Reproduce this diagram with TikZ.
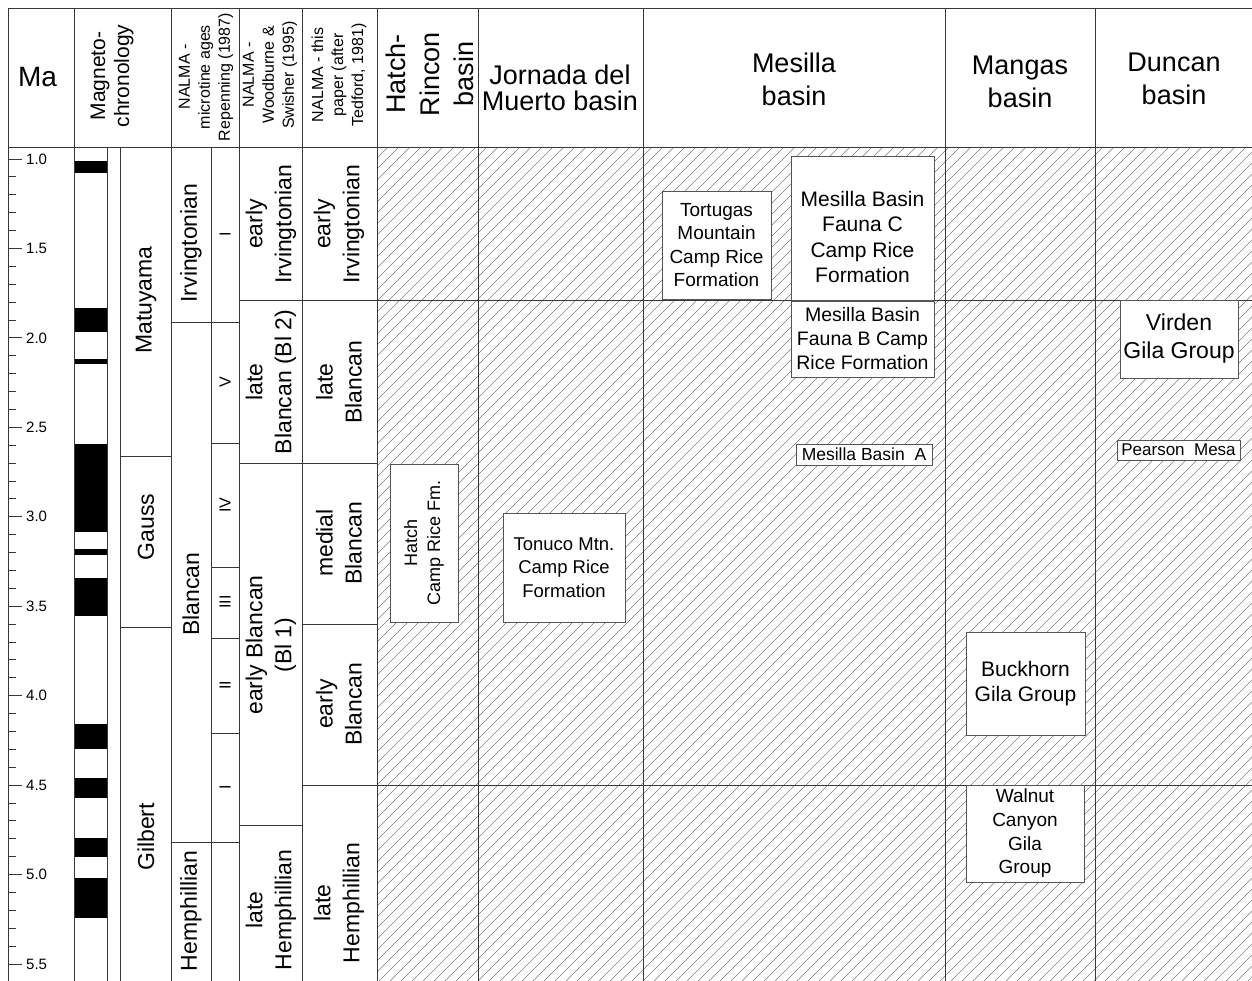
\documentclass[tikz,border=0pt]{standalone}
\usepackage{fontspec}
\setmainfont{Liberation Sans}
\definecolor{linec}{HTML}{383838}
\definecolor{boxc}{HTML}{555555}
\definecolor{hatchc}{HTML}{7E7E7E}
\begin{document}
\begin{tikzpicture}[x=1pt,y=-1pt,
  tabline/.style={draw=linec, line width=0.9pt},
  hatchline/.style={draw=hatchc, line width=0.6pt},
  basinhdr/.style={font=\fontsize{27}{33}\selectfont, align=center, inner sep=0pt},
  rothdr/.style={font=\fontsize{16}{20}\selectfont, align=center, rotate=90, inner sep=0pt},
  stage/.style={font=\fontsize{23}{29}\selectfont, align=center, rotate=90, inner sep=0pt},
  roman/.style={font=\fontsize{16}{19}\selectfont, rotate=90, inner sep=0pt},
  ticklbl/.style={font=\fontsize{15}{18}\selectfont, anchor=west, inner sep=0pt},
  unitbox/.style={draw=boxc, fill=white, line width=0.9pt, align=center, inner sep=0pt}]
\useasboundingbox (0,0) rectangle (1252,981);
\fill[white] (0,0) rectangle (1252,981);
% basins hatched
\begin{scope}
\clip (377,147) rectangle (1252,981);
\foreach \i in {0,...,156} \draw[hatchline] ({-457+11*\i},981) -- ++(834,-834);
\end{scope}
% polarity
\foreach \a/\b in {161/173,308/332,359/364,444/532,549/555,578/616,724/749,778/798,838/857,878/918}
  \fill[black] (74,\a) rectangle (107,\b);
% table frame
\draw[tabline] (8,8) -- (1252,8);
\draw[tabline] (8,147) -- (1252,147);
\draw[tabline] (8.5,8) -- (8.5,981);
\foreach \x in {74,171,239,302,377,478,643,945,1095} \draw[tabline] (\x,8) -- (\x,981);
\foreach \x in {107,120,211} \draw[tabline] (\x,147) -- (\x,981);
\foreach \xa/\xb/\yy in {120/171/456,120/171/627,171/239/322,171/239/842,211/239/443,211/239/567,211/239/638,211/239/733,239/1252/300,239/377/463,302/377/624,302/1252/785,239/302/825}
  \draw[tabline] (\xa,\yy) -- (\xb,\yy);
% Ma scale
\foreach \i in {0,...,45} \draw[tabline] (8.5,{159+17.89*\i}) -- (16,{159+17.89*\i});
\foreach \t [count=\k] in {1.0,1.5,2.0,2.5,3.0,3.5,4.0,4.5,5.0,5.5}{
  \draw[tabline] (8.5,{159+178.9*(\t-1)}) -- (22,{159+178.9*(\t-1)});
  \node[ticklbl] (tick\k) at (26,{159+178.9*(\t-1)}) {\t};
}
% headers
\node[basinhdr, font=\fontsize{28}{33}\selectfont] (hdrMa) at (37.5,77) {Ma};
\node[basinhdr, rotate=90, font=\fontsize{21}{24}\selectfont] (hdrMag) at (112,76) {Magneto-\\chronology};
\node[rothdr] (hdrRep) at (206,77) {NALMA -\\microtine ages\\Repenning (1987)};
\node[rothdr] (hdrWS) at (270,75) {NALMA -\\Woodburne \&\\Swisher (1995)};
\node[rothdr] (hdrTed) at (339,75) {NALMA - this\\paper (after\\Tedford, 1981)};
\node[basinhdr, rotate=90, font=\fontsize{27}{34}\selectfont] (hdrHR) at (430,74) {Hatch-\\Rincon\\basin};
\node[basinhdr, font=\fontsize{27}{26}\selectfont] (hdrJM) at (560,88) {Jornada del\\Muerto basin};
\node[basinhdr] (hdrMes) at (794,79) {Mesilla\\basin};
\node[basinhdr] (hdrMan) at (1020,82) {Mangas\\basin};
\node[basinhdr] (hdrDun) at (1174,79) {Duncan\\basin};
% chrons
\node[stage] (chMat) at (146,300) {Matuyama};
\node[stage] (chGau) at (146,527) {Gauss};
\node[stage] (chGil) at (146,837) {Gilbert};
% microtine ages
\node[stage] (rpIrv) at (191,243) {Irvingtonian};
\node[stage] (rpBla) at (191,594) {Blancan};
\node[stage] (rpHem) at (191,911) {Hemphillian};
\node[roman] (rpI) at (225,234) {I};
\node[roman] (rpV) at (225,382) {V};
\node[roman] (rpIV) at (225,505) {IV};
\node[roman] (rpIII) at (225,602) {III};
\node[roman] (rpII) at (225,685) {II};
\node[roman] (rpIb) at (225,787) {I};
% Woodburne & Swisher
\node[stage] (wsEI) at (271,224) {early\\Irvingtonian};
\node[stage] (wsLB) at (271,382) {late\\Blancan (Bl 2)};
\node[stage] (wsEB) at (271,645) {early Blancan\\(Bl 1)};
\node[stage] (wsLH) at (271,910) {late\\Hemphillian};
% this paper
\node[stage] (tpEI) at (339,224) {early\\Irvingtonian};
\node[stage] (tpLB) at (339,382) {late\\Blancan};
\node[stage] (tpMB) at (339,543) {medial\\Blancan};
\node[stage] (tpEB) at (339,704) {early\\Blancan};
\node[stage] (tpLH) at (339,903) {late\\Hemphillian};
% faunas
\node[unitbox, rotate=90, minimum width=158, minimum height=68, font=\fontsize{18}{23}\selectfont] (hatch) at (424,543) {Hatch\\Camp Rice Fm.};
\node[unitbox, minimum width=122, minimum height=109, font=\fontsize{18.5}{23.5}\selectfont] (tonuco) at (564,567.5) {Tonuco Mtn.\\Camp Rice\\Formation};
\node[unitbox, minimum width=109, minimum height=108, font=\fontsize{19}{23.3}\selectfont] (tortugas) at (716.5,245) {Tortugas\\Mountain\\Camp Rice\\Formation};
\node[unitbox, minimum width=143, minimum height=144] (faunaCbox) at (862.5,228) {};
\node[align=center, inner sep=0pt, font=\fontsize{21}{25.3}\selectfont] (faunaC) at (862.5,237) {Mesilla Basin\\Fauna C\\Camp Rice\\Formation};
\node[unitbox, minimum width=143, minimum height=76, font=\fontsize{19.5}{24}\selectfont] (faunaB) at (862.5,339) {Mesilla Basin\\Fauna B Camp\\Rice Formation};
\node[unitbox, minimum width=136, minimum height=21, font=\fontsize{17.5}{20}\selectfont] (faunaA) at (864,454.5) {Mesilla Basin\ \ A};
\node[unitbox, minimum width=118, minimum height=78, font=\fontsize{23}{28}\selectfont] (virden) at (1179,339) {Virden\\Gila Group};
\node[unitbox, minimum width=123, minimum height=20, font=\fontsize{17}{20}\selectfont] (pearson) at (1178.5,450) {Pearson\ \ Mesa};
\node[unitbox, minimum width=119, minimum height=103, font=\fontsize{21}{25}\selectfont] (buckhorn) at (1025.5,683.5) {Buckhorn\\Gila Group};
\node[unitbox, minimum width=118, minimum height=97, font=\fontsize{19}{23.7}\selectfont] (walnut) at (1025,833.5) {Walnut\\Canyon\\Gila\\Group};
\end{tikzpicture}
\end{document}
